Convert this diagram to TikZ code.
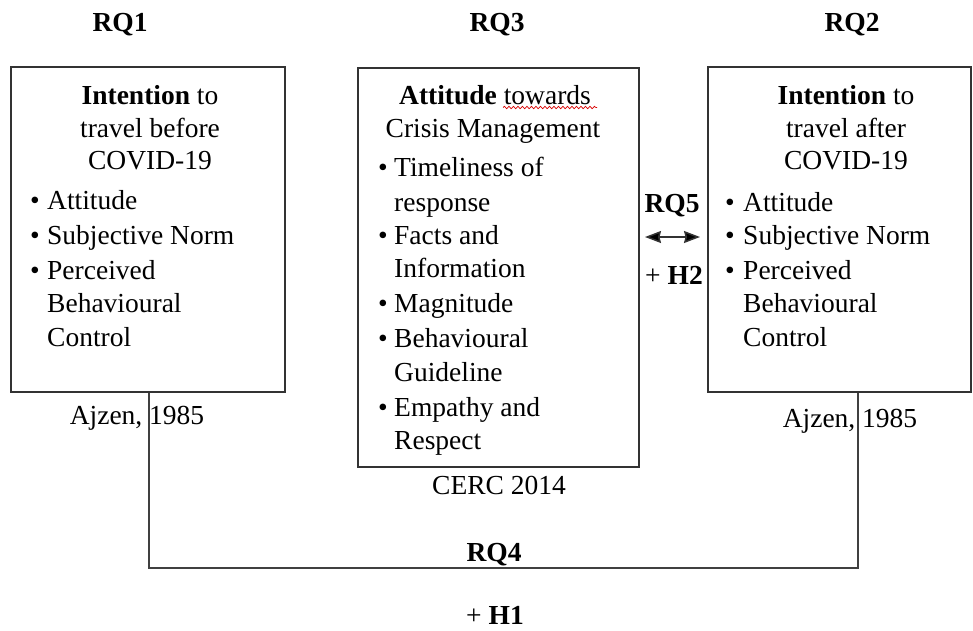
\documentclass[tikz,border=0pt]{standalone}
\usepackage{fontspec}
\setmainfont{Liberation Serif}
\usetikzlibrary{arrows.meta,decorations.pathmorphing}
\begin{document}
\begin{tikzpicture}[x=1pt,y=-1pt,
  box/.style={draw=black!80,line width=1.1pt,inner sep=0pt},
  t/.style={inner sep=0pt,anchor=base,font=\fontsize{27.5}{34}\selectfont},
  tl/.style={t,anchor=base west},
  bul/.style={t},
  link/.style={draw=black!75,line width=1.1pt}]
\useasboundingbox (0,0) rectangle (973,630);
% top labels
\node[t] (rq1) at (120,31) {\textbf{RQ1}};
\node[t] (rq3) at (497,31) {\textbf{RQ3}};
\node[t] (rq2) at (852,31) {\textbf{RQ2}};
% boxes
\node[box,minimum width=274,minimum height=325] (b1) at (148,229.5) {};
\node[box,minimum width=281,minimum height=399] (b3) at (498.5,267.5) {};
\node[box,minimum width=263,minimum height=325] (b2) at (839.5,229.5) {};
% box 1 text
\node[t] (b1t1) at (150,104) {\textbf{Intention} to};
\node[t] (b1t2) at (150,137) {travel before};
\node[t] (b1t3) at (150,169) {COVID-19};
\node[bul] (b1d1) at (35,209) {•};
\node[tl] (b1l1) at (47,209) {Attitude};
\node[bul] (b1d2) at (35,244) {•};
\node[tl] (b1l2) at (47,244) {Subjective Norm};
\node[bul] (b1d3) at (35,279) {•};
\node[tl] (b1l3) at (47,279) {Perceived};
\node[tl] (b1l4) at (47,312) {Behavioural};
\node[tl] (b1l5) at (47,346) {Control};
\node[t] (aj1) at (137,424) {Ajzen, 1985};
% box 3 text
\node[t] (b3t1) at (495,104) {\textbf{Attitude} towards};
\node[t] (b3t2) at (493,137) {Crisis Management};
\coordinate (w1) at (503,107.5);
\coordinate (w2) at (597,107.5);
\draw[red!85!black,line width=0.7pt,decorate,decoration={snake,amplitude=1.2pt,segment length=4.5pt}] (w1) -- (w2);
\node[bul] (b3d1) at (383,176) {•};
\node[tl] (b3l1) at (394,176) {Timeliness of};
\node[tl] (b3l2) at (394,211) {response};
\node[bul] (b3d2) at (383,244) {•};
\node[tl] (b3l3) at (394,244) {Facts and};
\node[tl] (b3l4) at (394,277) {Information};
\node[bul] (b3d3) at (383,312) {•};
\node[tl] (b3l5) at (394,312) {Magnitude};
\node[bul] (b3d4) at (383,347) {•};
\node[tl] (b3l6) at (394,347) {Behavioural};
\node[tl] (b3l7) at (394,381) {Guideline};
\node[bul] (b3d5) at (383,416) {•};
\node[tl] (b3l8) at (394,416) {Empathy and};
\node[tl] (b3l9) at (394,449) {Respect};
\node[t] (cerc) at (499,494) {CERC 2014};
% box 2 text
\node[t] (b2t1) at (846,104) {\textbf{Intention} to};
\node[t] (b2t2) at (846,137) {travel after};
\node[t] (b2t3) at (846,169) {COVID-19};
\node[bul] (b2d1) at (730,211) {•};
\node[tl] (b2l1) at (743,211) {Attitude};
\node[bul] (b2d2) at (730,244) {•};
\node[tl] (b2l2) at (743,244) {Subjective Norm};
\node[bul] (b2d3) at (730,279) {•};
\node[tl] (b2l3) at (743,279) {Perceived};
\node[tl] (b2l4) at (743,312) {Behavioural};
\node[tl] (b2l5) at (743,346) {Control};
\node[t] (aj2) at (850,427) {Ajzen, 1985};
% RQ5 arrow
\node[t] (rq5) at (672,212) {\textbf{RQ5}};
\coordinate (a1) at (645,237);
\coordinate (a2) at (700,237);
\draw[draw=black!80,line width=1.5pt,{Stealth[length=16,width=12,inset=1.5,fill=black]}-{Stealth[length=16,width=12,inset=1.5,fill=black]}] (a1) -- (a2);
\node[t] (h2) at (674,284) {+ \textbf{H2}};
% bottom connector
\coordinate (c1) at (149,568);
\coordinate (c2) at (858,568);
\draw[link] (b1.south -| c1) -- (c1) -- (c2) -- (b2.south -| c2);
\node[t] (rq4) at (494,561) {\textbf{RQ4}};
\node[t] (h1) at (495,624) {+ \textbf{H1}};
\end{tikzpicture}
\end{document}
